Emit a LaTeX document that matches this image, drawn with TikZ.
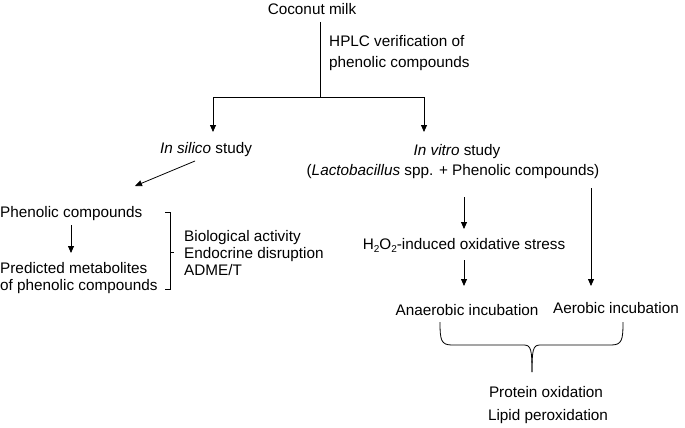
\documentclass[tikz,border=0pt]{standalone}
\usepackage{fontspec}
\setmainfont{Liberation Sans}
\usetikzlibrary{arrows.meta}
\newcommand{\lowsub}[1]{\raisebox{-0.4ex}{\fontsize{10}{10}\selectfont #1}}
\begin{document}
\begin{tikzpicture}[x=1pt,y=-1pt,
  lbl/.style={inner sep=0pt,font=\fontsize{15.3}{17}\selectfont},
  conn/.style={line width=0.8pt},
  arr/.style={conn,-{Triangle[length=7pt,width=6pt]}}]
\useasboundingbox (0,0) rectangle (685,428);
% top
\node[lbl,anchor=base] (coco) at (312,15) {Coconut milk};
\node[lbl,anchor=base west] (hplc1) at (329,47) {HPLC verification of};
\node[lbl,anchor=base west] (hplc2) at (329,67) {phenolic compounds};
\coordinate (ctop) at (320,22);
\coordinate (split) at (320,97);
\coordinate (sl) at (213,97);
\coordinate (sr) at (424,97);
\node[lbl,anchor=base] (silico) at (206,153) {\textit{In silico} study};
\node[lbl,anchor=base] (vitro1) at (457,155) {\textit{In vitro} study};
\node[lbl,anchor=base] (vitro2) at (453,175) {(\textit{Lactobacillus} spp. + Phenolic compounds)};
\draw[conn] (ctop) -- (split);
\draw[conn] (sl) -- (sr);
\draw[arr] (sl) -- (213,132);
\draw[arr] (sr) -- (424,132);
% left branch
\node[lbl,anchor=base west] (phen) at (0,217) {Phenolic compounds};
\node[lbl,anchor=base west] (pred1) at (0,273) {Predicted metabolites};
\node[lbl,anchor=base west] (pred2) at (0,290) {of phenolic compounds};
\draw[arr] (195,161) -- (135,186);
\draw[arr] (71,225) -- (71,253);
\node[lbl,anchor=base west] (bio1) at (184,241) {Biological activity};
\node[lbl,anchor=base west] (bio2) at (184,258) {Endocrine disruption};
\node[lbl,anchor=base west] (bio3) at (184,275) {ADME/T};
\draw[conn] (165,212) -- (170,212) -- (170,289) -- (165,289);
\draw[conn] (170,252) -- (174,252);
% right branch
\node[lbl,anchor=base] (h2o2) at (464,249) {H\lowsub{2}O\lowsub{2}-induced oxidative stress};
\node[lbl,anchor=base] (anaer) at (467,315) {Anaerobic incubation};
\node[lbl,anchor=base] (aer) at (616,313) {Aerobic incubation};
\draw[arr] (464,197) -- (464,229);
\draw[arr] (464,260) -- (464,286);
\draw[arr] (591,188) -- (591,286);
% brace
\draw[conn] (440,322) .. controls (440,340) and (441,345) .. (452,345)
  -- (524,345) .. controls (531,345) and (532,350) .. (532,372);
\draw[conn] (623,322) .. controls (623,340) and (622,345) .. (611,345)
  -- (540,345) .. controls (533,345) and (532,350) .. (532,372);
\node[lbl,anchor=base] (prot) at (546,397) {Protein oxidation};
\node[lbl,anchor=base] (lipid) at (548,420) {Lipid peroxidation};
\end{tikzpicture}
\end{document}
